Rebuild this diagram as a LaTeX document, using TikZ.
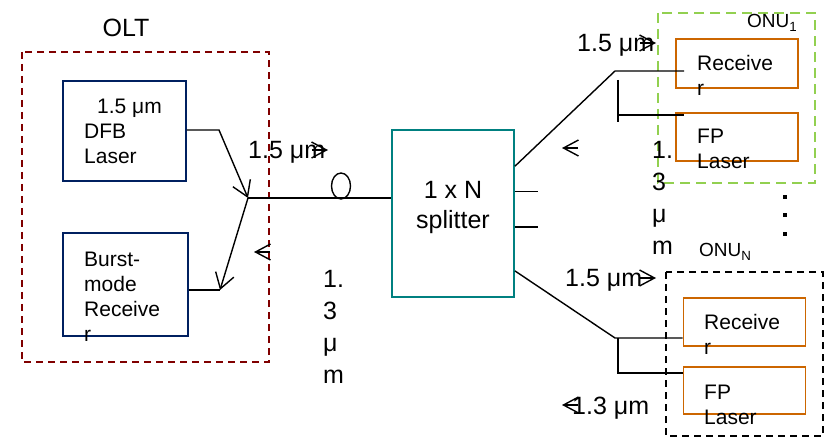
\documentclass[tikz,border=0pt]{standalone}
\usepackage{fontspec}
\setmainfont{Liberation Sans}
\usepackage{tikz}
\usetikzlibrary{arrows.meta}
\usetikzlibrary{calc}
\usetikzlibrary{shapes}
\usetikzlibrary{positioning}

\definecolor{oltred}{RGB}{128,0,0}
\definecolor{boxblue}{RGB}{0,32,96}
\definecolor{splitteal}{RGB}{0,128,128}
\definecolor{onuorange}{RGB}{204,102,0}
\definecolor{onugreen}{RGB}{146,208,80}

\tikzset{
  fiber/.style={line width=1.4pt},
  fibertip/.style={fiber, -{Straight Barb[length=15pt,width=19pt,line width=1.4pt]}},
  dirtip/.style={fiber, -{Straight Barb[length=15pt,width=16pt,line width=1.4pt]}},
  box/.style={draw, line width=1.8pt, inner sep=0pt},
  onubox/.style={box, draw=onuorange, minimum width=122pt, minimum height=48pt},
  boxtxt/.style={font=\fontsize{21}{25}\selectfont, align=left, inner sep=0pt, anchor=north west},
  lbl/.style={font=\fontsize{25}{30}\selectfont, inner sep=0pt, anchor=base west},
  vlbl/.style={font=\fontsize{25}{32}\selectfont, align=left, inner sep=0pt, anchor=north west},
  onulbl/.style={font=\fontsize{19}{22}\selectfont, inner sep=0pt, anchor=base west},
}

\begin{document}
\begin{tikzpicture}[x=1pt,y=-1pt]
\useasboundingbox (0,0) rectangle (827,438);

% OLT side
\draw[oltred, line width=1.8pt, dash pattern=on 7pt off 5pt] (22,52) rectangle (269,362);
\node[lbl, anchor=center] (olt) at (126,28) {OLT};

\node[box, draw=boxblue, minimum width=123pt, minimum height=100pt] (dfb) at (124.5,131) {};
\node[box, draw=boxblue, minimum width=125pt, minimum height=103pt] (burst) at (125.5,284.5) {};
\node[boxtxt] (dfbtxt) at (84,99) {\hspace{13pt}1.5 μm\\DFB\\Laser};
\node[boxtxt] (bursttxt) at (84,252) {Burst-\\mode\\Receive\\r};

% fibre and coupler
\coordinate (jn) at (248,198);
\coordinate (dbend) at (219,130);
\coordinate (rbend) at (220,290);
\draw[fibertip] (dfb.east |- dbend) -- (dbend) -- (jn);
\draw[fibertip] (jn) -- (rbend);
\draw[fiber] (burst.east |- rbend) -- (rbend);

% Splitter
\node[box, draw=splitteal, minimum width=122pt, minimum height=167pt] (split) at (453,213.5) {};
\node[font=\fontsize{25}{30}\selectfont, align=center, inner sep=0pt] (splittxt) at (453,207) {1 x N\\splitter};
\draw[fiber] (jn) -- (jn -| split.west);
\node[draw, ellipse, line width=1.4pt, minimum width=19pt, minimum height=26pt, inner sep=0pt] (coil) at (341,186) {};

\node[lbl] (dn1) at (248,159) {1.5 μm};
\draw[dirtip] (312,150) -- ++(16,0);
\draw[dirtip] (270,252) -- ++(-16,0);
\node[vlbl] (up1) at (323,270) {1.\\3\\μ\\m};

% ONU 1
\draw[onugreen, line width=1.8pt, dash pattern=on 10pt off 6pt] (658,13) rectangle (815,183);
\node[onulbl] (onu1) at (747,28) {ONU\textsubscript{1}};
\node[onubox, minimum height=49pt] (rx1) at (737,63.5) {};
\node[onubox] (fp1) at (737,137) {};
\node[boxtxt] (rx1txt) at (697,55) {Receive\\r};
\node[boxtxt] (fp1txt) at (697,129) {FP\\Laser};

\coordinate (s1) at ($(split.north east)!0.22!(split.south east)$);
\coordinate (b1) at (615,71);
\coordinate (t1) at (618,115);
\draw[fiber] (s1) -- (b1) -- ([xshift=9pt]rx1.west |- b1);
\draw[fiber] (618,80) -- (618,122);
\draw[fiber] (t1) -- ([xshift=9pt]fp1.west |- t1);

\draw[fiber] ($(split.north east)!0.37!(split.south east)$) -- ++(23,0);
\draw[fiber] ($(split.north east)!0.58!(split.south east)$) -- ++(23,0);

\node[lbl] (dn2) at (577,52) {1.5 μm};
\draw[dirtip] (640,43) -- ++(16,0);
\draw[dirtip] (578,148) -- ++(-16,0);
\node[vlbl] (up2) at (652,141) {1.\\3\\μ\\m};

% dots
\foreach \y in {195,213,232}
  \fill (783,\y) rectangle ++(4,4);

% ONU N
\draw[black, line width=1.8pt, dash pattern=on 7pt off 5pt] (666,272) rectangle (823,436);
\node[onulbl] (onuN) at (699,257) {ONU\textsubscript{N}};
\node[onubox] (rxN) at (744.5,322) {};
\node[onubox, minimum height=47pt] (fpN) at (744.5,390.5) {};
\node[boxtxt] (rxNtxt) at (704,314) {Receive\\r};
\node[boxtxt] (fpNtxt) at (704,385) {FP\\Laser};

\coordinate (s4) at ($(split.north east)!0.84!(split.south east)$);
\coordinate (b2) at (615,338);
\coordinate (t2) at (618,373);
\draw[fiber] (s4) -- (b2) -- (rxN.west |- b2);
\draw[fiber] (618,338) -- (t2) -- (fpN.west |- t2);

\node[lbl] (dn3) at (565,287) {1.5 μm};
\draw[dirtip] (640,278) -- ++(16,0);
\draw[dirtip] (578,405) -- ++(-16,0);
\node[lbl] (up3) at (572,414) {1.3 μm};
\end{tikzpicture}
\end{document}
